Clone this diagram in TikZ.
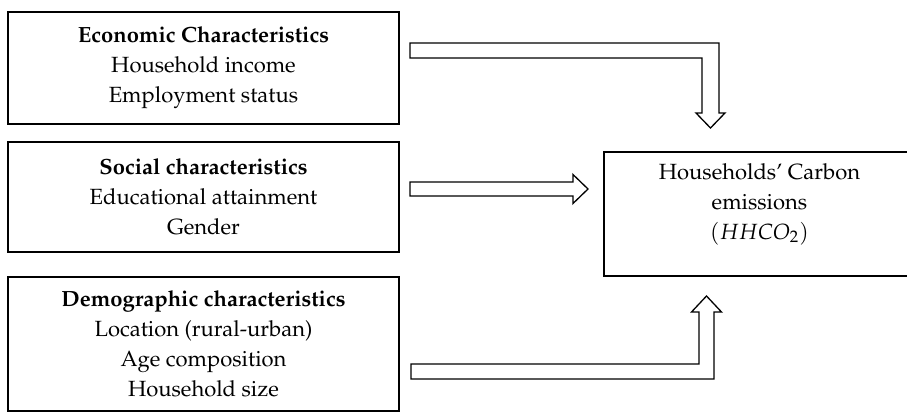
\documentclass[tikz,border=0pt]{standalone}
\usepackage[T1]{fontenc}
\usepackage{mathpazo}
\usetikzlibrary{calc,positioning}

\begin{document}
\begin{tikzpicture}[x=0.5pt,y=-0.5pt,line width=0.65pt,
  box/.style={draw, rectangle, minimum width=195.5pt, align=center, inner sep=0pt,
    font=\fontsize{11}{15}\selectfont},
  blk/.style={draw, fill=white, line join=miter}]
\useasboundingbox (0,0) rectangle (907,412);
\tikzstyle{lbl}=[align=center, inner sep=0pt, font=\fontsize{11}{15}\selectfont]
\node[box, minimum height=56pt] (eco) at (203.5,68) {\textbf{Economic Characteristics}\\Household income\\Employment status};
\node[box, minimum height=55pt] (soc) at (203.5,197) {\textbf{Social characteristics}\\Educational attainment\\Gender};
\node[box, minimum height=67pt] (dem) at (203.5,344) {\textbf{Demographic characteristics}\\Location (rural-urban)\\Age composition\\Household size};
\node[draw, rectangle, minimum width=152.5pt, minimum height=62pt, inner sep=0pt] (hh) at (756.5,214) {};
\node[lbl] (hhtxt) at ([xshift=1.5pt,yshift=5pt]hh.center) {Households' Carbon\\emissions\\$(HHCO_2)$};
% block arrows
\draw[blk] (410,43) -- (719,43) -- (719,113) -- (725,113) -- (710.5,128) -- (696,113) -- (702,113) -- (702,58) -- (410,58) -- cycle;
\draw[blk] (410,182) -- (573,182) -- (573,174.5) -- (588,189) -- (573,203.5) -- (573,196) -- (410,196) -- cycle;
\draw[blk] (411,364) -- (699,364) -- (699,312) -- (691.5,312) -- (706.5,296) -- (721.5,312) -- (714,312) -- (714,379) -- (411,379) -- cycle;
\end{tikzpicture}
\end{document}
